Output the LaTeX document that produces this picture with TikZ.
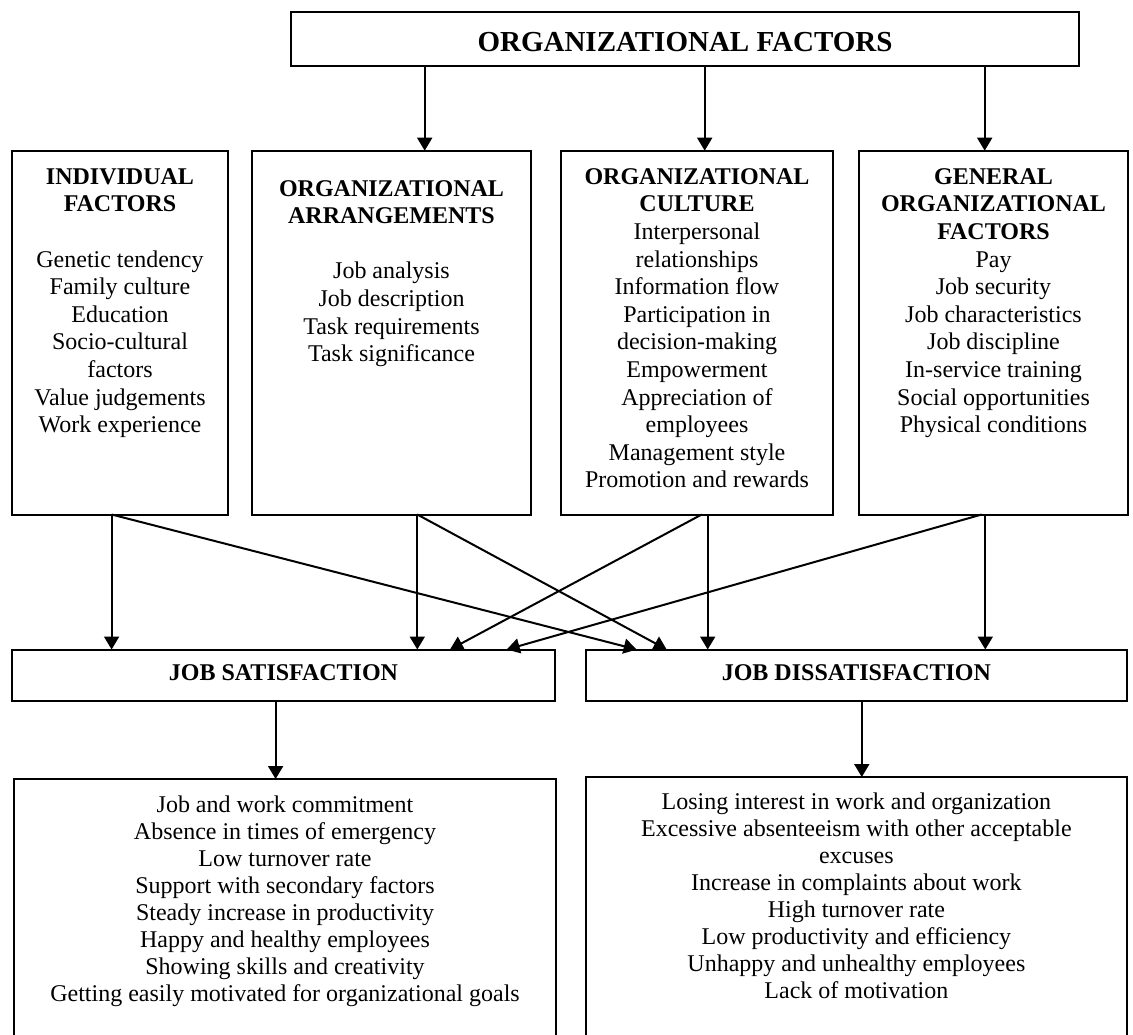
\documentclass[tikz,border=0pt]{standalone}
\usepackage{fontspec}
\setmainfont{Liberation Serif}
\usetikzlibrary{arrows.meta,calc}
\begin{document}
\begin{tikzpicture}[x=1pt,y=-1pt,
  box/.style={draw, line width=2pt, rectangle, inner sep=0pt, outer sep=0pt, anchor=north west},
  txt/.style={align=center, inner sep=0pt, anchor=north, font=\fontsize{24}{27.6}\selectfont},
  bot/.style={align=center, inner sep=0pt, anchor=north, font=\fontsize{24}{27}\selectfont},
  lbl/.style={inner sep=0pt, anchor=base, font=\fontsize{24}{27.6}\selectfont\bfseries},
  arrow/.style={line width=2pt, -{Triangle[length=13pt,width=15pt]}}
]
\useasboundingbox (0,0) rectangle (1133,1035);
\clip (0,0) rectangle (1133,1035);

% boxes
\node[box, minimum width=788pt, minimum height=53.4pt] (title) at (291,12.3) {};
\node[inner sep=0pt, anchor=base, font=\fontsize{29}{34}\selectfont\bfseries] (titletxt) at (685,51.7) {ORGANIZATIONAL FACTORS};

\node[box, minimum width=215.4pt, minimum height=363.8pt] (ind) at (12.3,150.7) {};
\node[box, minimum width=278.4pt, minimum height=363.8pt] (orgarr) at (252.3,150.7) {};
\node[box, minimum width=272.3pt, minimum height=363.8pt] (orgcul) at (561,150.7) {};
\node[box, minimum width=269.6pt, minimum height=363.8pt] (gen) at (858.7,150.7) {};

\node[box, minimum width=543pt, minimum height=51.5pt] (jsat) at (12,649.5) {};
\node[box, minimum width=541.5pt, minimum height=51.5pt] (jdis) at (585.7,649.5) {};

\node[box, minimum width=542.6pt, minimum height=280pt] (osat) at (13.8,779) {};
\node[box, minimum width=541.5pt, minimum height=280pt] (odis) at (585.7,777) {};

% texts
\node[txt] (indtxt) at (120,168.3) {\textbf{INDIVIDUAL}\\\textbf{FACTORS}\\[27.6pt]Genetic tendency\\Family culture\\Education\\Socio-cultural\\factors\\Value judgements\\Work experience};
\node[txt] (orgarrtxt) at (391.5,180) {\textbf{ORGANIZATIONAL}\\\textbf{ARRANGEMENTS}\\[27.6pt]Job analysis\\Job description\\Task requirements\\Task significance};
\node[txt] (orgcultxt) at (697,168.3) {\textbf{ORGANIZATIONAL}\\\textbf{CULTURE}\\Interpersonal\\relationships\\Information flow\\Participation in\\decision-making\\Empowerment\\Appreciation of\\employees\\Management style\\Promotion and rewards};
\node[txt] (gentxt) at (993.5,168.3) {\textbf{GENERAL}\\\textbf{ORGANIZATIONAL}\\\textbf{FACTORS}\\Pay\\Job security\\Job characteristics\\Job discipline\\In-service training\\Social opportunities\\Physical conditions};

\node[lbl] (jsattxt) at (283.5,680) {JOB SATISFACTION};
\node[lbl] (jdistxt) at (856.4,680) {JOB DISSATISFACTION};

\node[bot] (osattxt) at (285,796) {Job and work commitment\\Absence in times of emergency\\Low turnover rate\\Support with secondary factors\\Steady increase in productivity\\Happy and healthy employees\\Showing skills and creativity\\Getting easily motivated for organizational goals};
\node[bot] (odistxt) at (856.4,793) {Losing interest in work and organization\\Excessive absenteeism with other acceptable\\excuses\\Increase in complaints about work\\High turnover rate\\Low productivity and efficiency\\Unhappy and unhealthy employees\\Lack of motivation};

% connectors from title
\coordinate (t1) at ($(title.south west)+(133.7,0)$);
\coordinate (t2) at ($(title.south west)+(413.7,0)$);
\coordinate (t3) at ($(title.south west)+(693.7,0)$);
\draw[arrow] (t1) -- (t1 |- orgarr.north);
\draw[arrow] (t2) -- (t2 |- orgcul.north);
\draw[arrow] (t3) -- (t3 |- gen.north);

% connectors to job boxes
\coordinate (i0) at ($(ind.south west)+(99.3,0)$);
\coordinate (i1) at ($(jdis.north west)+(51,0)$);
\draw[arrow] (i0) -- (i0 |- jsat.north);
\draw[arrow] (i0) -- (i1);

\coordinate (a0) at ($(orgarr.south west)+(165,0)$);
\coordinate (a1) at ($(jdis.north west)+(81,0)$);
\draw[arrow] (a0) -- (a0 |- jsat.north);
\draw[arrow] (a0) -- (a1);

\coordinate (c0) at ($(orgcul.south west)+(146.7,0)$);
\coordinate (c0d) at ($(orgcul.south west)+(140.7,0)$);
\coordinate (c1) at ($(jsat.north west)+(438,0)$);
\draw[arrow] (c0) -- (c0 |- jdis.north);
\draw[arrow] (c0d) -- (c1);

\coordinate (g0) at ($(gen.south west)+(126.6,0)$);
\coordinate (g0d) at ($(gen.south west)+(123,0)$);
\coordinate (g1) at ($(jsat.north west)+(494.7,0)$);
\draw[arrow] (g0) -- (g0 |- jdis.north);
\draw[arrow] (g0d) -- (g1);

% connectors to outcomes
\coordinate (s0) at ($(jsat.south west)+(263.6,0)$);
\coordinate (d0) at ($(jdis.south west)+(276.1,0)$);
\draw[arrow] (s0) -- (s0 |- osat.north);
\draw[arrow] (d0) -- (d0 |- odis.north);
\end{tikzpicture}
\end{document}
